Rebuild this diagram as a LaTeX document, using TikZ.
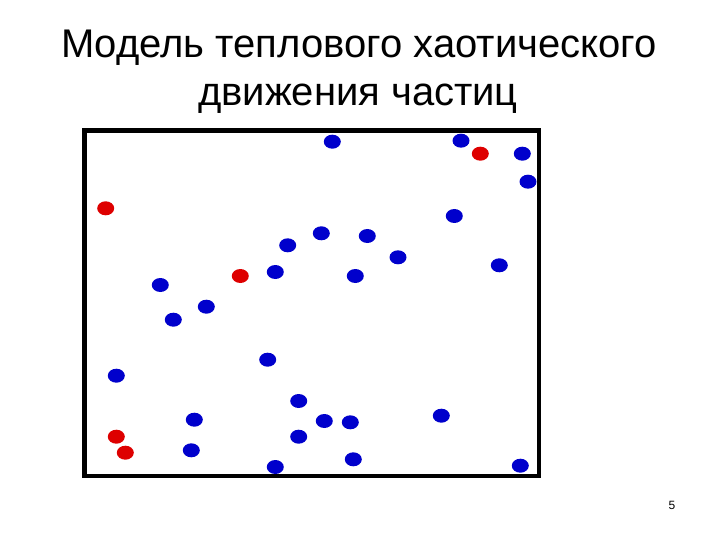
\documentclass[tikz,border=0pt]{standalone}
\usepackage{fontspec}
\setmainfont{Liberation Sans}
\usetikzlibrary{shapes.geometric}
\definecolor{pblue}{RGB}{0,0,204}
\definecolor{pred}{RGB}{222,0,0}
\begin{document}
\begin{tikzpicture}[x=1pt,y=-1pt,
  particle/.style={ellipse, minimum width=17pt, minimum height=14pt, inner sep=0pt},
  bp/.style={particle, fill=pblue},
  rp/.style={particle, fill=pred},
  titletext/.style={font=\fontsize{40}{48}\selectfont, inner sep=0pt, anchor=base}]
\useasboundingbox (0,0) rectangle (720,540);
\fill[white] (0,0) rectangle (720,540);
\node[titletext] (t1) at (359,58) {Модель теплового хаотического};
\node[titletext] (t2) at (358,106) {движения частиц};
\node[font=\fontsize{12}{14}\selectfont, inner sep=0pt] (pn) at (672,505) {5};
\draw[line width=4.5pt] (84.5,130.5) rectangle (539,476);
% red particles
\foreach \x/\y [count=\i] in {105.7/208.3, 240.3/276, 480.3/153.7, 116.3/436.7, 125.3/452.7}
  \node[rp] (r\i) at (\x,\y) {};
% blue particles
\foreach \x/\y [count=\i] in {332.3/141.7, 461/140.7, 522.3/153.7, 528/181.7, 454.3/216,
  321.3/233.3, 367.3/236, 287.7/245.3, 398/257.3, 499.3/265.3, 275.3/272, 355.3/276,
  160.3/285, 206.3/306.7, 173.3/319.7, 267.7/359.7, 116.3/375.7, 298.7/401, 194.3/419.7,
  324.3/421, 350.3/422.3, 441.3/415.7, 298.7/436.7, 191.3/450.3, 353.3/459.3, 275.3/467, 520.3/465.7}
  \node[bp] (b\i) at (\x,\y) {};
\end{tikzpicture}
\end{document}
